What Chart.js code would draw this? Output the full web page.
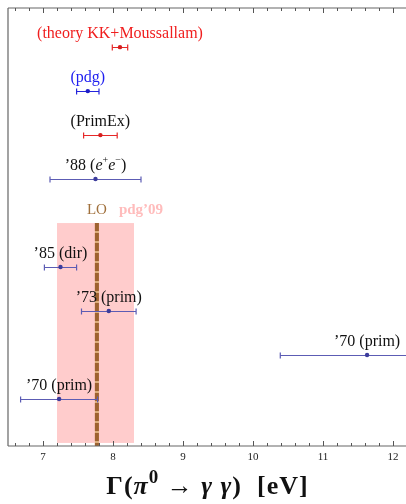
<!DOCTYPE html>
<html>
<head>
<meta charset="utf-8">
<script src="https://cdn.jsdelivr.net/npm/chart.js@4.4.0/dist/chart.umd.min.js"></script>
<style>
  html, body { margin: 0; padding: 0; background: #fff; }
  #c { display: block; }
</style>
</head>
<body>
<canvas id="c" width="406" height="504"></canvas>
<script>
// measurements, top to bottom ('*' = italic, '^' = superscript next char)
const labels = ['(theory KK+Moussallam)', '(pdg)', '(PrimEx)', '’88 (*e*^+*e*^−)', '’85 (dir)', '’73 (prim)', '’70 (prim)', '’70 (prim)'];
const rows = [1, 2, 3, 4, 6, 7, 8, 9];
const widths = [8.10, 7.64, 7.82, 7.75, 7.25, 7.94, 11.63, 7.23];
const errors = [0.11, 0.16, 0.24, 0.65, 0.23, 0.39, 1.24, 0.55];
const barColors = ['#e62828', '#2424dc', '#e62828', '#5c5cb4', '#5c5cb4', '#5c5cb4', '#5c5cb4', '#5c5cb4'];
const dotColors = ['#d61e1e', '#1e1ec8', '#d61e1e', '#3c3c9c', '#3c3c9c', '#3c3c9c', '#3c3c9c', '#3c3c9c'];
const labelColors = ['#f01e1e', '#1e1ef0', '#111', '#111', '#111', '#111', '#111', '#111'];

const xTicks = [7, 8, 9, 10, 11, 12];
const pdgBand = [7.2, 8.3];   // pdg'09 range
const bandRows = [5, 10];
const loValue = 7.77;         // LO prediction

const SERIF = "'Liberation Serif', 'Times New Roman', serif";

function parseRich(s) {
  const segs = [];
  let italic = false;
  for (let i = 0; i < s.length; i++) {
    const ch = s[i];
    if (ch === '*') { italic = !italic; continue; }
    if (ch === '^') { segs.push({ t: s[++i], italic, sup: true }); continue; }
    const last = segs[segs.length - 1];
    if (last && !last.sup && last.italic === italic) last.t += ch;
    else segs.push({ t: ch, italic, sup: false });
  }
  return segs;
}

function drawRich(ctx, s, cx, y, size, color, bold, supScale, spacing) {
  const segs = parseRich(s);
  const sc = supScale || 0.65;
  ctx.letterSpacing = (spacing || 0) + 'px';
  const fontOf = seg => (seg.italic ? 'italic ' : '') + (bold ? 'bold ' : '') +
    (seg.sup ? Math.round(size * sc) : size) + 'px ' + SERIF;
  let total = 0;
  segs.forEach(seg => { ctx.font = fontOf(seg); seg.w = ctx.measureText(seg.t).width; total += seg.w; });
  let x = cx - total / 2;
  ctx.fillStyle = color;
  ctx.textAlign = 'left';
  ctx.textBaseline = 'alphabetic';
  segs.forEach(seg => {
    ctx.font = fontOf(seg);
    ctx.fillText(seg.t, x, seg.sup ? y - size * 0.42 : y);
    x += seg.w;
  });
  ctx.letterSpacing = '0px';
}

const decor = {
  id: 'decor',
  beforeDatasetsDraw(chart) {
    const { ctx, chartArea: a, scales: { x, y } } = chart;
    ctx.save();
    // pdg'09 band
    const bx0 = x.getPixelForValue(pdgBand[0]), bx1 = x.getPixelForValue(pdgBand[1]);
    const by0 = y.getPixelForValue(bandRows[0]), by1 = y.getPixelForValue(bandRows[1]);
    ctx.fillStyle = '#ffcccc';
    ctx.fillRect(bx0, by0, bx1 - bx0, by1 - by0);
    // LO line
    const lx = x.getPixelForValue(loValue);
    ctx.lineWidth = 4;
    ctx.strokeStyle = '#dcae7c';
    ctx.beginPath(); ctx.moveTo(lx, by0); ctx.lineTo(lx, a.bottom); ctx.stroke();
    ctx.strokeStyle = '#9e6230';
    ctx.setLineDash([8, 2]);
    ctx.beginPath(); ctx.moveTo(lx, by0); ctx.lineTo(lx, a.bottom); ctx.stroke();
    ctx.setLineDash([]);
    // band labels
    ctx.font = '15px ' + SERIF;
    ctx.textAlign = 'center';
    ctx.textBaseline = 'alphabetic';
    ctx.fillStyle = '#a0703c';
    ctx.fillText('LO', lx, by0 - 9);
    ctx.font = 'bold 15px ' + SERIF;
    ctx.fillStyle = '#ffbcbc';
    ctx.fillText('pdg’09', bx1 + 7, by0 - 9);
    // error bars
    ctx.lineWidth = 1.2;
    widths.forEach((v, i) => {
      const py = Math.round(y.getPixelForValue(rows[i])) + 0.5;
      const x0 = x.getPixelForValue(v - errors[i]), x1 = x.getPixelForValue(v + errors[i]);
      ctx.strokeStyle = barColors[i];
      ctx.beginPath();
      ctx.moveTo(x0, py); ctx.lineTo(x1, py);
      ctx.moveTo(x0, py - 3); ctx.lineTo(x0, py + 3);
      ctx.moveTo(x1, py - 3); ctx.lineTo(x1, py + 3);
      ctx.stroke();
    });
    ctx.restore();
  },
  afterDraw(chart) {
    const { ctx, chartArea: a, scales: { x, y } } = chart;
    ctx.save();
    // frame
    ctx.strokeStyle = '#666';
    ctx.lineWidth = 1.2;
    ctx.beginPath();
    ctx.moveTo(a.left, a.top); ctx.lineTo(a.right, a.top);
    ctx.moveTo(a.left, a.top); ctx.lineTo(a.left, a.bottom);
    ctx.moveTo(a.left, a.bottom); ctx.lineTo(a.right, a.bottom);
    ctx.stroke();
    // major / minor ticks, inward on top and bottom
    ctx.lineWidth = 1;
    ctx.strokeStyle = '#555';
    ctx.beginPath();
    for (let i = 33; i <= 61; i++) {
      const px = Math.round(x.getPixelForValue(i / 5)) + 0.5;
      const len = i % 5 === 0 ? 5 : 3;
      ctx.moveTo(px, a.bottom); ctx.lineTo(px, a.bottom - len);
      ctx.moveTo(px, a.top); ctx.lineTo(px, a.top + len);
    }
    ctx.stroke();
    // point labels
    widths.forEach((v, i) => {
      drawRich(ctx, labels[i], x.getPixelForValue(v), y.getPixelForValue(rows[i]) - 9, 16, labelColors[i], false);
    });
    // axis title
    drawRich(ctx, 'Γ(*π*^0 → *γ* *γ*)  [eV]', 207.5, 494, 26, '#111', true, 0.72, 1);
    ctx.restore();
  }
};

new Chart(document.getElementById('c'), {
  type: 'scatter',
  data: {
    datasets: [{
      data: widths.map((v, i) => ({ x: v, y: rows[i] })),
      pointRadius: 2.2,
      pointBorderWidth: 0,
      pointBackgroundColor: dotColors,
      showLine: false
    }]
  },
  options: {
    responsive: false,
    animation: false,
    layout: { autoPadding: false, padding: { left: 8, top: 8, right: 0, bottom: 0 } },
    plugins: { legend: { display: false }, tooltip: { enabled: false } },
    scales: {
      x: {
        type: 'linear',
        min: 6.5,
        max: 12.186,
        afterBuildTicks: s => { s.ticks = xTicks.map(v => ({ value: v })); },
        afterFit: s => { s.height = 58; s.paddingLeft = 0; s.paddingRight = 0; },
        grid: { display: false, drawTicks: false },
        border: { display: false },
        ticks: { font: { family: SERIF, size: 11 }, color: '#222', padding: 5, maxRotation: 0 }
      },
      y: {
        type: 'linear',
        display: false,
        reverse: true,
        min: 0.11,
        max: 10.07
      }
    }
  },
  plugins: [decor]
});
</script>
</body>
</html>
